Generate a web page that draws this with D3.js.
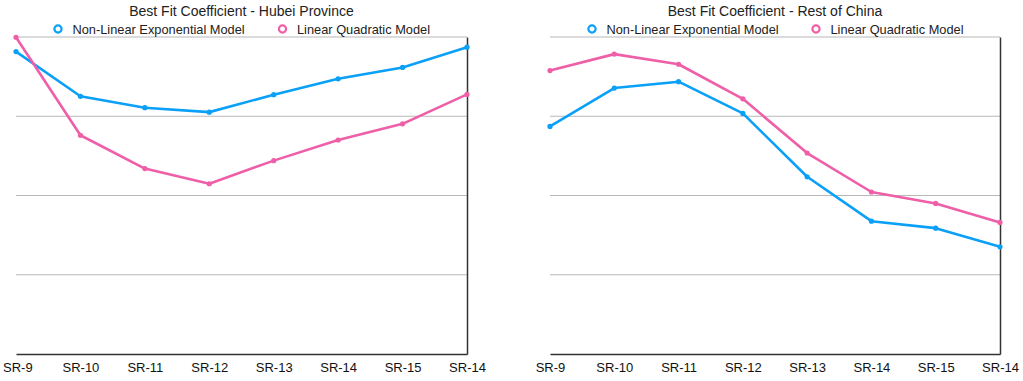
<!DOCTYPE html>
<html><head><meta charset="utf-8">
<script src="https://cdn.jsdelivr.net/npm/d3@7"></script>
<style>
html,body{margin:0;padding:0;background:#fff;}
text{font-family:"Liberation Sans",Arial,Helvetica,sans-serif;}
</style></head>
<body><svg id="c" width="1023" height="381"></svg>
<script>
const categories = ["SR-9","SR-10","SR-11","SR-12","SR-13","SR-14","SR-15","SR-14"];
const seriesNames = ["Non-Linear Exponential Model","Linear Quadratic Model"];
const titles = ["Best Fit Coefficient - Hubei Province","Best Fit Coefficient - Rest of China"];
const hubeiExponential = [95.4,81.3,77.7,76.3,81.8,86.8,90.4,96.8];
const hubeiQuadratic   = [99.9,69.0,58.5,53.7,61.0,67.5,72.6,81.9];
const restExponential  = [71.8,83.9,85.9,75.9,55.9,41.9,39.7,33.8];
const restQuadratic    = [89.4,94.6,91.4,80.5,63.4,51.1,47.5,41.5];
const yTicks = [0,25,50,75,100];
const colors = ["#0aa0f8","#ee5fa8"];

const svg = d3.select("#c");
const panels = [
  {x0:16, x1:467, title:titles[0], cx:241.5, data:[hubeiExponential,hubeiQuadratic], leg:[58,282.5]},
  {x0:550, x1:1000, title:titles[1], cx:775, data:[restExponential,restQuadratic], leg:[592,816]}
];
const yTop = 37, yBot = 354;

panels.forEach(p => {
  const g = svg.append("g");
  const x = d3.scalePoint().domain(d3.range(categories.length)).range([p.x0,p.x1]);
  const y = d3.scaleLinear().domain([0,100]).range([yBot,yTop]);

  g.append("g").selectAll("line").data(yTicks.filter(t=>t>0)).join("line")
    .attr("x1",p.x0).attr("x2",p.x1)
    .attr("y1",d=>y(d)).attr("y2",d=>y(d))
    .attr("stroke","#b8b8b8").attr("stroke-width",1.2);

  const xa = d3.axisBottom(x).tickFormat(i=>categories[i]).tickSize(0).tickPadding(9);
  const ax = g.append("g").attr("transform",`translate(0,${yBot})`).call(xa);
  ax.select(".domain").attr("stroke","#333").attr("stroke-width",1.3);
  ax.selectAll("text").attr("font-size",13).attr("fill","#111")
    .attr("font-family","Liberation Sans, Arial, sans-serif");
  ax.selectAll("text").each(function(){
    const bb=this.getBBox();
    const tx = +d3.select(this.parentNode).attr("transform").match(/translate\(([-\d.]+)/)[1];
    if (tx + bb.x < 3) d3.select(this).attr("dx", (3 - (tx + bb.x)));
  });

  const ya = d3.axisRight(y).tickValues([]).tickSize(0);
  const ay = g.append("g").attr("transform",`translate(${p.x1},0)`).call(ya);
  ay.select(".domain").attr("stroke","#333").attr("stroke-width",1.5);

  const line = d3.line().x((d,i)=>x(i)).y(d=>y(d));
  p.data.forEach((s,k)=>{
    g.append("path").datum(s).attr("d",line).attr("fill","none")
      .attr("stroke",colors[k]).attr("stroke-width",2.6).attr("stroke-linejoin","round");
    g.append("g").selectAll("circle").data(s).join("circle")
      .attr("cx",(d,i)=>x(i)).attr("cy",d=>y(d)).attr("r",2.6).attr("fill",colors[k]);
  });

  g.append("text").attr("x",p.cx).attr("y",16).attr("text-anchor","middle")
    .attr("font-size",14).attr("fill","#222").text(p.title);

  seriesNames.forEach((n,k)=>{
    g.append("circle").attr("cx",p.leg[k]).attr("cy",29).attr("r",3.6)
      .attr("fill","#fff").attr("stroke",colors[k]).attr("stroke-width",2.2);
    g.append("text").attr("x",p.leg[k]+14.5).attr("y",33.5).attr("font-size",12.8)
      .attr("fill","#222").text(n);
  });
});
</script></body></html>
